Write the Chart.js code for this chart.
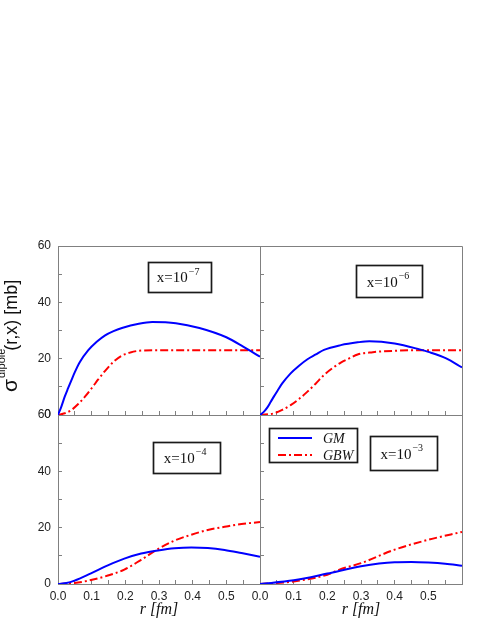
<!DOCTYPE html>
<html><head><meta charset="utf-8">
<script src="https://cdn.jsdelivr.net/npm/chart.js@4.4.0/dist/chart.umd.min.js"></script>
<style>
html,body{margin:0;padding:0;background:#fff;}
#wrap{position:relative;width:491px;height:635px;overflow:hidden;}
#wrap canvas{position:absolute;left:0;top:0;}
</style></head><body>
<div id="wrap">
<canvas id="c1" width="491" height="635"></canvas>
<canvas id="c2" width="491" height="635"></canvas>
<canvas id="c3" width="491" height="635"></canvas>
<canvas id="c4" width="491" height="635"></canvas>
</div>
<script>
// ---- data ----
const seriesNames = ['GM', 'GBW'];
const panelExponents = ['\u22127', '\u22126', '\u22124', '\u22123'];
const xTickLabels = ['0.0', '0.1', '0.2', '0.3', '0.4', '0.5'];
const yTickLabels = ['0', '20', '40', '60'];
const yTitleMain = '\u03C3';
const yTitleSup = 'dipole';
const yTitleRest = '(r,x) [mb]';
const xTitle = 'r [fm]';

// x = 1e-7
const r7GM  = [0, 0.01, 0.02, 0.03, 0.04, 0.05, 0.065, 0.09, 0.115, 0.14, 0.165, 0.19, 0.24, 0.28, 0.35, 0.42, 0.5, 0.55, 0.6];
const gm7   = [0, 3.0, 6.5, 9.5, 12.4, 15.2, 18.8, 23.0, 26.0, 28.3, 29.8, 30.9, 32.4, 33.0, 32.6, 30.9, 27.6, 24.3, 20.7];
const r7GBW = [0, 0.02, 0.04, 0.06, 0.08, 0.1, 0.12, 0.14, 0.165, 0.19, 0.215, 0.24, 0.29, 0.35, 0.6];
const gbw7  = [0, 0.6, 1.8, 3.9, 6.5, 9.5, 12.7, 15.7, 18.9, 21.1, 22.2, 22.8, 23.0, 23.0, 23.0];
// x = 1e-6
const r6GM  = [0, 0.012, 0.022, 0.032, 0.042, 0.052, 0.066, 0.091, 0.116, 0.141, 0.166, 0.19, 0.24, 0.29, 0.325, 0.4, 0.474, 0.5, 0.553, 0.6];
const gm6   = [0, 1.2, 2.7, 4.7, 6.7, 8.6, 11.2, 14.8, 17.5, 19.8, 21.5, 23.1, 24.8, 25.8, 26.2, 25.4, 23.3, 22.4, 20.1, 16.9];
const r6GBW = [0, 0.042, 0.066, 0.091, 0.116, 0.141, 0.166, 0.19, 0.215, 0.24, 0.265, 0.29, 0.335, 0.4, 0.47, 0.6];
const gbw6  = [0, 0.6, 1.8, 3.5, 5.7, 8.3, 11.2, 14.2, 16.6, 18.6, 20.1, 21.5, 22.3, 22.8, 23.0, 23.0];
// x = 1e-4
const r4GM  = [0, 0.025, 0.049, 0.098, 0.148, 0.197, 0.247, 0.297, 0.346, 0.396, 0.445, 0.495, 0.545, 0.6];
const gm4   = [0, 0.35, 1.2, 3.8, 6.6, 9.0, 10.8, 11.9, 12.7, 13.0, 12.8, 12.1, 11.0, 9.7];
const r4GBW = [0, 0.049, 0.098, 0.148, 0.197, 0.247, 0.297, 0.346, 0.396, 0.445, 0.495, 0.545, 0.6];
const gbw4  = [0, 0.35, 1.4, 3.0, 5.1, 8.6, 12.4, 15.4, 17.5, 19.2, 20.3, 21.3, 22.0];
// x = 1e-3
const r3GM  = [0, 0.1, 0.2, 0.3, 0.4, 0.45, 0.5, 0.55, 0.6];
const gm3   = [0, 1.3, 3.7, 6.3, 7.7, 7.8, 7.6, 7.2, 6.5];
const r3GBW = [0, 0.1, 0.2, 0.236, 0.3, 0.4, 0.5, 0.6];
const gbw3  = [0, 0.9, 3.3, 5.1, 7.4, 12.2, 15.7, 18.5];

// ---- styling ----
const FRAME = '#808080';
const BLUE = '#0000ff';
const RED = '#ff0000';
const YW = 40, XH = 30, W = 491, H = 635;

function pts(xs, ys) { return xs.map((x, i) => ({x: x, y: ys[i]})); }

const panels = [
  {id: 'c1', rect: [58, 246, 260, 415], gm: pts(r7GM, gm7), gbw: pts(r7GBW, gbw7), exp: panelExponents[0],
   showY: true, showX: false, box: {fx: 0.602, fy: 0.182, w: 63, h: 30}, yTitle: true},
  {id: 'c2', rect: [260, 246, 462, 415], gm: pts(r6GM, gm6), gbw: pts(r6GBW, gbw6), exp: panelExponents[1],
   showY: false, showX: false, box: {fx: 0.641, fy: 0.208, w: 66, h: 32}},
  {id: 'c3', rect: [58, 415, 260, 584], gm: pts(r4GM, gm4), gbw: pts(r4GBW, gbw4), exp: panelExponents[2],
   showY: true, showX: true, box: {fx: 0.637, fy: 0.25, w: 67, h: 31}, xTitle: true},
  {id: 'c4', rect: [260, 415, 462, 584], gm: pts(r3GM, gm3), gbw: pts(r3GBW, gbw3), exp: panelExponents[3],
   showY: false, showX: true, box: {fx: 0.709, fy: 0.225, w: 67, h: 34}, xTitle: true, legend: true}
];

const decor = {
  id: 'decor',
  afterDraw(chart, args, o) {
    const ctx = chart.ctx, a = chart.chartArea;
    ctx.save();
    // top & right frame
    ctx.strokeStyle = FRAME; ctx.lineWidth = 1;
    ctx.beginPath();
    ctx.moveTo(a.left, a.top + 0.5); ctx.lineTo(a.right + 0.5, a.top + 0.5);
    ctx.lineTo(a.right + 0.5, a.bottom);
    ctx.stroke();
    // annotation box
    const b = o.box;
    const cx = a.left + b.fx * (a.right - a.left), cy = a.top + b.fy * (a.bottom - a.top);
    ctx.strokeStyle = '#1a1a1a'; ctx.lineWidth = 1.7;
    ctx.strokeRect(Math.round(cx - b.w / 2) + 0.5, Math.round(cy - b.h / 2) + 0.5, b.w, b.h);
    ctx.fillStyle = '#111';
    ctx.textBaseline = 'alphabetic'; ctx.textAlign = 'left';
    ctx.font = '15px "Liberation Serif", "Times New Roman", serif';
    const main = 'x=10';
    const wm = ctx.measureText(main).width;
    ctx.font = '10px "Liberation Serif", "Times New Roman", serif';
    const ws = ctx.measureText(o.exp).width;
    const sx = cx - (wm + ws) / 2 - 2;
    ctx.font = '15px "Liberation Serif", "Times New Roman", serif';
    ctx.fillText(main, sx, cy + 5.5);
    ctx.font = '10px "Liberation Serif", "Times New Roman", serif';
    ctx.fillText(o.exp, sx + wm + 1, cy - 2);
    // legend
    if (o.legend) {
      const lx = a.left + 9, ly = a.top + 13;
      ctx.strokeStyle = '#1a1a1a'; ctx.lineWidth = 1.7;
      ctx.strokeRect(lx + 0.5, ly + 0.5, 88, 34);
      chart.data.datasets.forEach((ds, i) => {
        const yy = ly + 10 + i * 17;
        ctx.save();
        ctx.strokeStyle = ds.borderColor; ctx.lineWidth = ds.borderWidth;
        ctx.setLineDash(ds.borderDash || []);
        ctx.beginPath(); ctx.moveTo(lx + 9, yy); ctx.lineTo(lx + 43, yy); ctx.stroke();
        ctx.restore();
        ctx.fillStyle = '#111';
        ctx.font = 'italic 14px "Liberation Serif", "Times New Roman", serif';
        ctx.textBaseline = 'middle';
        ctx.fillText(ds.label, lx + 54, yy + 1);
      });
    }
    // x title
    if (o.xTitle) {
      ctx.fillStyle = '#111';
      ctx.font = 'italic 16px "Liberation Serif", "Times New Roman", serif';
      ctx.textAlign = 'center'; ctx.textBaseline = 'middle';
      ctx.fillText(xTitle, (a.left + a.right) / 2, 610);
    }
    // y title
    if (o.yTitle) {
      ctx.translate(17, 392);
      ctx.rotate(-Math.PI / 2);
      ctx.fillStyle = '#111';
      ctx.textAlign = 'left'; ctx.textBaseline = 'alphabetic';
      ctx.font = '21px "Liberation Sans", Arial, sans-serif';
      ctx.fillText(yTitleMain, 0, 0);
      const w1 = ctx.measureText(yTitleMain).width;
      ctx.font = '11px "Liberation Sans", Arial, sans-serif';
      ctx.fillText(yTitleSup, w1 + 1, -12);
      const w2 = ctx.measureText(yTitleSup).width;
      ctx.font = '18px "Liberation Sans", Arial, sans-serif';
      ctx.fillText(yTitleRest, w1 + w2 - 1, 0);
    }
    ctx.restore();
  }
};

panels.forEach(p => {
  const [L, T, R, B] = p.rect;
  new Chart(document.getElementById(p.id), {
    type: 'line',
    data: {
      datasets: [
        {label: seriesNames[0], data: p.gm, borderColor: BLUE, borderWidth: 2, pointRadius: 0,
         cubicInterpolationMode: 'monotone', fill: false},
        {label: seriesNames[1], data: p.gbw, borderColor: RED, borderWidth: 2, pointRadius: 0,
         borderDash: [8, 3, 2, 3], cubicInterpolationMode: 'monotone', fill: false}
      ]
    },
    options: {
      responsive: false, animation: false, events: [],
      layout: {autoPadding: false, padding: {left: L - YW, top: T, right: W - R, bottom: H - B - XH}},
      plugins: {legend: {display: false}, tooltip: {enabled: false},
        decor: {box: p.box, exp: p.exp, legend: !!p.legend, xTitle: !!p.xTitle, yTitle: !!p.yTitle}},
      scales: {
        x: {
          type: 'linear', min: 0, max: 0.6,
          afterFit: s => { s.height = XH; },
          border: {display: true, color: FRAME, width: 1},
          grid: {display: true, drawOnChartArea: false, drawTicks: true, tickLength: -4, color: FRAME},
          ticks: {stepSize: 0.05, autoSkip: false, maxRotation: 0, padding: 9, color: '#222',
            font: {family: '"Liberation Sans", Arial, sans-serif', size: 12},
            callback: v => {
              if (!p.showX) return '';
              const t = Math.round(v * 100);
              if (t % 10 !== 0) return '';
              const lbl = (t / 100).toFixed(1);
              return xTickLabels.includes(lbl) ? lbl : '';
            }}
        },
        y: {
          type: 'linear', min: 0, max: 60,
          afterFit: s => { s.width = YW; },
          border: {display: true, color: FRAME, width: 1},
          grid: {display: true, drawOnChartArea: false, drawTicks: true, tickLength: -4, color: FRAME},
          ticks: {stepSize: 10, padding: 11, color: '#222',
            font: {family: '"Liberation Sans", Arial, sans-serif', size: 12},
            callback: v => {
              if (!p.showY) return '';
              const s = String(Math.round(v));
              return yTickLabels.includes(s) ? s : '';
            }}
        }
      }
    },
    plugins: [decor]
  });
});
</script>
</body></html>
